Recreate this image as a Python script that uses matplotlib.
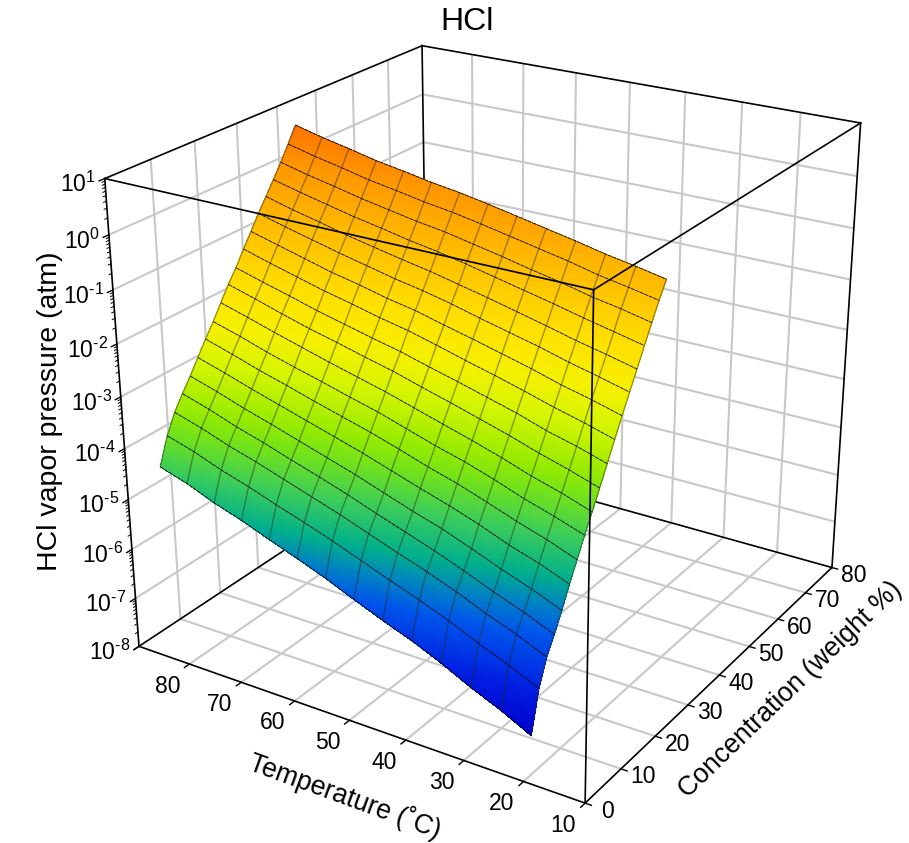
import numpy as np
import matplotlib
matplotlib.use('Agg')
import matplotlib.pyplot as plt
from matplotlib.colors import LinearSegmentedColormap, Normalize
from mpl_toolkits.mplot3d import proj3d

plt.rcParams['font.family'] = ['Liberation Sans', 'DejaVu Sans']
plt.rcParams['mathtext.default'] = 'regular'

temps = [85, 80, 75, 70, 65, 60, 55, 50, 45, 40, 35, 30, 25, 20]
concs = list(range(2, 40, 2))
# log10(vapor pressure / atm); one row per temperature, one column per concentration
log_p = np.array([
 [-4.30,-3.79,-3.43,-3.16,-2.91,-2.64,-2.37,-2.12,-1.84,-1.57,-1.33,-1.05,-0.79,-0.52,-0.27,-0.02,0.24,0.52,0.81],
 [-4.47,-3.95,-3.59,-3.32,-3.07,-2.80,-2.53,-2.27,-1.99,-1.72,-1.48,-1.20,-0.93,-0.66,-0.41,-0.15,0.11,0.39,0.68],
 [-4.69,-4.15,-3.78,-3.51,-3.25,-2.97,-2.70,-2.44,-2.15,-1.88,-1.62,-1.34,-1.07,-0.79,-0.53,-0.27,0.00,0.28,0.57],
 [-4.87,-4.32,-3.94,-3.67,-3.41,-3.13,-2.85,-2.59,-2.30,-2.03,-1.77,-1.48,-1.21,-0.92,-0.66,-0.39,-0.12,0.16,0.45],
 [-5.08,-4.51,-4.12,-3.85,-3.58,-3.29,-3.01,-2.73,-2.45,-2.16,-1.90,-1.60,-1.32,-1.04,-0.77,-0.49,-0.22,0.07,0.36],
 [-5.28,-4.69,-4.30,-4.02,-3.75,-3.45,-3.16,-2.88,-2.59,-2.30,-2.03,-1.73,-1.45,-1.16,-0.88,-0.60,-0.32,-0.03,0.26],
 [-5.49,-4.88,-4.48,-4.20,-3.92,-3.61,-3.31,-3.02,-2.73,-2.43,-2.15,-1.84,-1.55,-1.26,-0.98,-0.69,-0.40,-0.11,0.18],
 [-5.73,-5.09,-4.68,-4.40,-4.11,-3.79,-3.48,-3.19,-2.89,-2.59,-2.30,-1.98,-1.69,-1.38,-1.10,-0.80,-0.51,-0.21,0.08],
 [-5.96,-5.30,-4.88,-4.59,-4.30,-3.97,-3.66,-3.36,-3.05,-2.74,-2.44,-2.13,-1.82,-1.52,-1.22,-0.92,-0.62,-0.32,-0.03],
 [-6.17,-5.50,-5.07,-4.78,-4.47,-4.14,-3.82,-3.51,-3.21,-2.90,-2.59,-2.27,-1.96,-1.65,-1.35,-1.04,-0.74,-0.43,-0.14],
 [-6.42,-5.72,-5.28,-4.99,-4.68,-4.33,-4.01,-3.69,-3.38,-3.06,-2.74,-2.42,-2.10,-1.78,-1.48,-1.16,-0.85,-0.54,-0.25],
 [-6.70,-5.97,-5.52,-5.22,-4.90,-4.55,-4.21,-3.89,-3.57,-3.24,-2.92,-2.58,-2.26,-1.93,-1.62,-1.29,-0.98,-0.67,-0.37],
 [-6.95,-6.20,-5.73,-5.43,-5.10,-4.73,-4.39,-4.06,-3.73,-3.40,-3.06,-2.72,-2.39,-2.06,-1.74,-1.41,-1.08,-0.77,-0.47],
 [-7.24,-6.46,-5.98,-5.67,-5.33,-4.95,-4.60,-4.25,-3.92,-3.58,-3.23,-2.88,-2.54,-2.20,-1.87,-1.53,-1.20,-0.88,-0.58],
])

t_ticks = [10,20,30,40,50,60,70,80]
c_ticks = [0,10,20,30,40,50,60,70,80]
z_ticks = [-8,-7,-6,-5,-4,-3,-2,-1,0,1]
c_lo,c_hi,t_lo,t_hi,z_lo,z_hi = 0,80,10,90,-8,1

cmap_z = [-8,-7.24,-6.5,-5.7,-5.3,-4.9,-4.3,-3.8,-3.4,-2.7,-2.2,-1.6,-0.6,0.2,0.8,1]
cmap_rgb = [(0,0,170),(0,0,205),(0,30,225),(0,85,235),(0,130,195),(0,175,140),(60,205,90),(110,225,30),(150,235,0),(215,245,0),(245,240,0),(255,225,0),(255,185,0),(255,150,0),(255,115,0),(255,90,0)]
cmap = LinearSegmentedColormap.from_list('hcl',[((z+8)/9,tuple(v/255 for v in c)) for z,c in zip(cmap_z,cmap_rgb)],N=512)
norm = Normalize(-8,1)

fig=plt.figure(figsize=(9.09,8.43),dpi=100)
ax=fig.add_axes([62.776/909,22.457/843,843/909,1.0],projection='3d',computed_zorder=False)
ax.view_init(24.1167,-147.6427,0.09715)
ax.set_proj_type('persp',focal_length=0.51603)
ax.set_box_aspect((1,0.99481,0.94923),zoom=1.02827)
ax.set_axis_off()

GRID='#c8c8c8'; GL=1.5
def line(a,b,**k):
    ax.plot([a[0],b[0]],[a[1],b[1]],[a[2],b[2]],**k)
g=dict(color=GRID,lw=GL,zorder=1,solid_capstyle='butt')
for z in z_ticks[1:-1]:
    line((c_lo,t_hi,z),(c_hi,t_hi,z),**g)
    line((c_hi,t_lo,z),(c_hi,t_hi,z),**g)
for c in c_ticks[1:-1]:
    line((c,t_hi,z_lo),(c,t_hi,z_hi),**g)
    line((c,t_lo,z_lo),(c,t_hi,z_lo),**g)
for t in t_ticks[1:]:
    line((c_hi,t,z_lo),(c_hi,t,z_hi),**g)
    line((c_lo,t,z_lo),(c_hi,t,z_lo),**g)
b=dict(color='black',lw=1.2,zorder=2,solid_capstyle='projecting')
for p,q in [((c_hi,t_hi,z_lo),(c_hi,t_hi,z_hi)),((c_lo,t_hi,z_lo),(c_hi,t_hi,z_lo)),((c_hi,t_lo,z_lo),(c_hi,t_hi,z_lo)),
            ((c_lo,t_hi,z_hi),(c_hi,t_hi,z_hi)),((c_hi,t_lo,z_hi),(c_hi,t_hi,z_hi)),
            ((c_lo,t_hi,z_lo),(c_lo,t_hi,z_hi)),((c_hi,t_lo,z_lo),(c_hi,t_lo,z_hi)),
            ((c_lo,t_lo,z_lo),(c_lo,t_hi,z_lo)),((c_lo,t_lo,z_lo),(c_hi,t_lo,z_lo))]:
    line(p,q,**b)

def refine(x,y,tab,n=10):
    # subdivide each mesh cell so that the colour runs smoothly across it
    ii=np.linspace(0,len(x)-1,(len(x)-1)*n+1); jj=np.linspace(0,len(y)-1,(len(y)-1)*n+1)
    rows=np.array([np.interp(jj,np.arange(len(y)),r) for r in tab])
    fine=np.array([np.interp(ii,np.arange(len(x)),rows[:,k]) for k in range(rows.shape[1])]).T
    return np.interp(ii,np.arange(len(x)),x),np.interp(jj,np.arange(len(y)),y),fine
T_f,C_f,Z_f=refine(np.array(temps,float),np.array(concs,float),log_p)
CC,TT=np.meshgrid(C_f,T_f)
fc=cmap(norm(0.25*(Z_f[:-1,:-1]+Z_f[1:,:-1]+Z_f[:-1,1:]+Z_f[1:,1:])))
ax.plot_surface(CC,TT,Z_f,facecolors=fc,rstride=1,cstride=1,shade=False,linewidth=0,antialiased=False,zorder=3)
for i,t in enumerate(temps):
    ax.plot(concs,[t]*len(concs),log_p[i],color='#2a2a10',lw=1.0,alpha=0.45,zorder=4)
for j,c in enumerate(concs):
    ax.plot([c]*len(temps),temps,log_p[:,j],color='black',lw=0.6,ls=(0,(5,0.8)),zorder=5)
f=dict(color='black',lw=1.2,zorder=6,solid_capstyle='projecting')
line((c_lo,t_lo,z_lo),(c_lo,t_lo,z_hi),**f)
line((c_lo,t_lo,z_hi),(c_lo,t_hi,z_hi),**f)
line((c_lo,t_lo,z_hi),(c_hi,t_lo,z_hi),**f)
tk=dict(color='black',lw=1.0,zorder=2)
for t in t_ticks+[90]:
    line((c_lo,t,z_lo),(-1.2,t,z_lo),**tk)
for c in c_ticks:
    line((c,t_lo,z_lo),(c,t_lo-1.0,z_lo),**tk)
for z in z_ticks:
    line((c_lo,t_hi,z),(-1.2,t_hi,z),**tk)
    if z<z_hi:
        for m in range(2,10):
            zz=z+np.log10(m)
            line((c_lo,t_hi,zz),(-0.6,t_hi,zz),color='black',lw=0.7,zorder=2)
ax.set_xlim(c_lo,c_hi);ax.set_ylim(t_lo,t_hi);ax.set_zlim(z_lo,z_hi)
ax.apply_aspect()
M=ax.get_proj()
def pos3(x,y,z,dx,dy):
    xs,ys,_=proj3d.proj_transform(np.array([x],float),np.array([y],float),np.array([z],float),M)
    s=ax.transData.transform(np.c_[xs,ys])[0]
    return (s[0]+dx)/909,(s[1]-dy)/843
FS=16.5
for t in t_ticks:
    fig.text(*pos3(c_lo,t,z_lo,-22,22),str(t),ha='center',va='center',fontsize=FS)
for c in c_ticks:
    fig.text(*pos3(c,t_lo,z_lo,22,8),str(c),ha='center',va='center',fontsize=FS)
for z in z_ticks:
    lab='$10^{\u2010%d}$'%(-z) if z<0 else '$10^{%d}$'%z
    fig.text(*pos3(c_lo,t_hi,z,-9,6),lab,ha='right',va='center',fontsize=FS)
def px(x,y): return x/909,1-y/843
fig.text(*px(467,22),'HCl',ha='center',va='center',fontsize=23)
fig.text(*px(50,411),'HCl vapor pressure (atm)',rotation=90,ha='center',va='center',fontsize=20.5)
fig.text(*px(345,796),'Temperature (˚C)',rotation=-20,ha='center',va='center',fontsize=19.2,rotation_mode='anchor')
fig.text(*px(791,690),'Concentration (weight %)',rotation=44,ha='center',va='center',fontsize=19.2,rotation_mode='anchor')
fig.savefig('out.png',dpi=100)
